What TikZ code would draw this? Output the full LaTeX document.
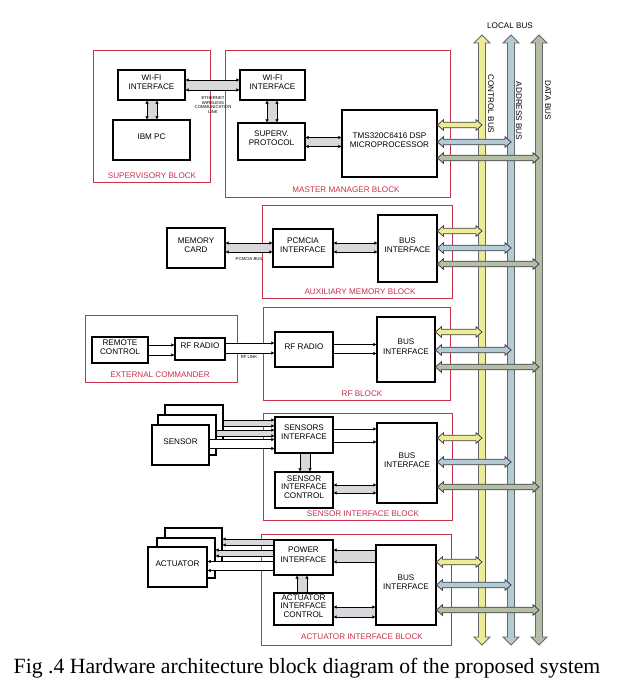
\documentclass[tikz,border=0pt]{standalone}
\usepackage{fontspec}
\setmainfont{Liberation Serif}
\newfontfamily\arialf{Liberation Sans}
\usetikzlibrary{fit,calc,arrows.meta}
\definecolor{grpred}{RGB}{200,50,75}
\definecolor{ctlfill}{RGB}{238,236,150}
\definecolor{adrfill}{RGB}{180,202,212}
\definecolor{datfill}{RGB}{180,190,166}
\definecolor{pairfill}{RGB}{215,215,220}
\newcommand\fs{\arialf\fontsize{6.1}{6.8}\selectfont}
\newcommand\fst{\arialf\fontsize{6.1}{6.3}\selectfont}
\newcommand\tinyf{\arialf\fontsize{3.2}{3.6}\selectfont}
\tikzset{
  blk/.style={draw=black, line width=0.8pt, fill=white, font=\fs, align=center, inner sep=0pt},
  grp/.style={draw=grpred, line width=0.7pt, inner sep=0pt},
  grplbl/.style={text=grpred, font=\fs},
  pl/.style={line width=0.6pt, draw=black},
  >={Latex[length=2.4pt,width=2.8pt]},
  busv/.style={draw=black!60, line width=0.6pt},
  bush/.style={draw=black!75, line width=0.6pt},
}
% box from corner to corner
\newcommand\bx[6]{\node[blk,fit={(#2,#3) (#4,#5)}] (#1) {#6};}
% pair of parallel arrow lines with fill between (horizontal)
\newcommand\pairH[5]{%
  \fill[#2] let \p1=(#3),\p2=(#4) in (\x1,\y1-#5*0.75pt) rectangle (\x2,\y1+#5*0.75pt);
  \draw[pl,#1] let \p1=(#3),\p2=(#4) in (\x1,\y1+#5*0.75pt) -- (\x2,\y1+#5*0.75pt);
  \draw[pl,#1] let \p1=(#3),\p2=(#4) in (\x1,\y1-#5*0.75pt) -- (\x2,\y1-#5*0.75pt);}
\newcommand\pairV[5]{%
  \fill[#2] let \p1=(#3),\p2=(#4) in (\x1-#5*0.75pt,\y1) rectangle (\x1+#5*0.75pt,\y2);
  \draw[pl,#1] let \p1=(#3),\p2=(#4) in (\x1+#5*0.75pt,\y1) -- (\x1+#5*0.75pt,\y2);
  \draw[pl,#1] let \p1=(#3),\p2=(#4) in (\x1-#5*0.75pt,\y1) -- (\x1-#5*0.75pt,\y2);}
% horizontal double-headed bus arrow (from left to right)
\newcommand\hbus[3]{%
  \filldraw[bush,#1] let \p1=(#2),\p2=(#3) in (\x1,\y1) -- (\x1+4.5pt,\y1+4pt) -- (\x1+4.5pt,\y1+2.1pt)
   -- (\x2-4.5pt,\y1+2.1pt) -- (\x2-4.5pt,\y1+4pt) -- (\x2,\y1) -- (\x2-4.5pt,\y1-4pt)
   -- (\x2-4.5pt,\y1-2.1pt) -- (\x1+4.5pt,\y1-2.1pt) -- (\x1+4.5pt,\y1-4pt) -- cycle;}
% vertical double-headed main bus (top to bottom)
\newcommand\vbus[3]{%
  \filldraw[busv,#1] let \p1=(#2),\p2=(#3) in (\x1,\y1) -- (\x1+6pt,\y1-6pt) -- (\x1+2.6pt,\y1-6pt)
   -- (\x1+2.6pt,\y2+6pt) -- (\x1+6pt,\y2+6pt) -- (\x1,\y2) -- (\x1-6pt,\y2+6pt)
   -- (\x1-2.6pt,\y2+6pt) -- (\x1-2.6pt,\y1-6pt) -- (\x1-6pt,\y1-6pt) -- cycle;}
\begin{document}
\begin{tikzpicture}[x=0.75pt,y=-0.75pt]
\useasboundingbox (0,0) rectangle (634,697);
\fill[white] (0,0) rectangle (634,697);

% ---------- group frames ----------
\node[grp,fit={(93,50) (210,182)}] (gsup) {};
\node[grp,fit={(225,50) (450,197)}] (gmas) {};
\node[grp,fit={(262,205) (452,298)}] (gaux) {};
\node[grp,fit={(85,315) (237,382)}] (gext) {};
\node[grp,fit={(263,307) (450,400)}] (grf) {};
\node[grp,fit={(263,413) (452,520)}] (gsen) {};
\node[grp,fit={(261,534) (451,645)}] (gact) {};

\node[grplbl] (lsup) at (152,176) {SUPERVISORY BLOCK};
\node[grplbl] (lmas) at (346,190) {MASTER MANAGER BLOCK};
\node[grplbl] (laux) at (360,292) {AUXILIARY MEMORY BLOCK};
\node[grplbl] (lext) at (160,375) {EXTERNAL COMMANDER};
\node[grplbl] (lrf) at (362,394) {RF BLOCK};
\node[grplbl] (lsen) at (363,514) {SENSOR INTERFACE BLOCK};
\node[grplbl] (lact) at (362,637) {ACTUATOR INTERFACE BLOCK};

% ---------- boxes ----------
\bx{wifiA}{118}{70}{185}{100}{WI-FI\\INTERFACE}
\bx{ibm}{113}{120}{190}{160}{IBM PC}
\bx{wifiB}{240}{70}{305}{100}{WI-FI\\INTERFACE}
\bx{superv}{238}{123}{305}{160}{SUPERV.\\PROTOCOL}
\bx{tms}{342}{110}{437}{177}{TMS320C6416 DSP\\MICROPROCESSOR}

\bx{memcard}{167}{228}{225}{268}{MEMORY\\CARD}
\bx{pcmcia}{273}{229}{333}{267}{PCMCIA\\INTERFACE}
\bx{busAux}{378}{215}{437}{282}{BUS\\INTERFACE}

\bx{remote}{92}{337}{148}{363}{REMOTE\\CONTROL}
\bx{rfA}{175}{338}{225}{360}{RF RADIO}
\bx{rfB}{275}{332}{333}{367}{RF RADIO}
\bx{busRF}{377}{317}{435}{382}{BUS\\INTERFACE}

\bx{sensC}{165}{405}{223}{445}{}
\bx{sensB}{158}{415}{216}{455}{}
\bx{sensA}{152}{425}{209}{465}{SENSOR}
\bx{sensIF}{275}{417}{333}{453}{SENSORS\\INTERFACE}
\bx{sensCtl}{275}{472}{333}{508}{\fst SENSOR\\INTERFACE\\CONTROL}
\bx{busSens}{377}{423}{437}{503}{BUS\\INTERFACE}

\bx{actC}{165}{528}{222}{568}{}
\bx{actB}{157}{538}{215}{578}{}
\bx{actA}{148}{547}{207}{587}{ACTUATOR}
\bx{powerIF}{274}{540}{333}{575}{POWER\\INTERFACE}
\bx{actCtl}{274}{593}{333}{625}{\fst ACTUATOR\\INTERFACE\\CONTROL}
\bx{busAct}{376}{545}{436}{625}{BUS\\INTERFACE}

% ---------- internal connectors ----------
\pairH{<->}{pairfill}{wifiA.east |- 0,85}{wifiB.west |- 0,85}{5}
\pairV{<->}{pairfill}{wifiA.south -| 152,0}{ibm.north -| 152,0}{5}
\pairV{<->}{pairfill}{wifiB.south -| 272,0}{superv.north -| 272,0}{5}
\pairH{<->}{pairfill}{superv.east |- 0,142}{tms.west |- 0,142}{4.5}

\pairH{<->}{pairfill}{memcard.east |- 0,247.5}{pcmcia.west |- 0,247.5}{4.5}
\pairH{<->}{pairfill}{pcmcia.east |- 0,247.5}{busAux.west |- 0,247.5}{4.5}

\pairH{->}{white}{remote.east |- 0,350}{rfA.west |- 0,350}{5}
\pairH{->}{white}{rfA.east |- 0,348}{rfB.west |- 0,348}{5}
\pairH{->}{white}{rfB.east |- 0,349}{busRF.west |- 0,349}{4.5}

\pairH{->}{pairfill}{sensC.east |- 0,423}{sensIF.west |- 0,423}{3}
\pairH{->}{pairfill}{sensB.east |- 0,433}{sensIF.west |- 0,433}{3}
\pairH{->}{white}{sensA.east |- 0,444}{sensIF.west |- 0,444}{4.5}
\pairH{->}{white}{sensIF.east |- 0,435.5}{busSens.west |- 0,435.5}{6.5}
\pairV{->}{pairfill}{sensIF.south -| 305,0}{sensCtl.north -| 305,0}{5}
\pairH{<->}{pairfill}{sensCtl.east |- 0,489}{busSens.west |- 0,489}{4}

\pairH{<-}{pairfill}{powerIF.east |- 0,556}{busAct.west |- 0,556}{6}
\pairH{<-}{pairfill}{actC.east |- 0,542}{powerIF.west |- 0,542}{3}
\pairH{<-}{pairfill}{actB.east |- 0,553}{powerIF.west |- 0,553}{3}
\pairH{<-}{white}{actA.east |- 0,566}{powerIF.west |- 0,566}{4.5}
\pairV{<-}{pairfill}{powerIF.south -| 302,0}{actCtl.north -| 302,0}{5}
\pairH{<->}{pairfill}{actCtl.east |- 0,612}{busAct.west |- 0,612}{5}

% small labels
\node[font=\tinyf, align=center] (lnk) at (213,105) {ETHERNET\\WIRELESS\\COMMUNICATION\\LINK};
\node[font=\tinyf] (pbus) at (249,259) {PCMCIA BUS};
\node[font=\tinyf] (rflink) at (249,357) {RF LINK};

% ---------- local bus ----------
\coordinate (cbT) at (482,35); \coordinate (cbB) at (482,645);
\coordinate (abT) at (511,35); \coordinate (abB) at (511,645);
\coordinate (dbT) at (539,35); \coordinate (dbB) at (539,645);
\vbus{fill=ctlfill}{cbT}{cbB}
\vbus{fill=adrfill}{abT}{abB}
\vbus{fill=datfill}{dbT}{dbB}
\node[font=\fs] (llb) at (510,26) {LOCAL BUS};
\node[font=\fs, rotate=-90] (lcb) at (491,104) {CONTROL BUS};
\node[font=\fs, rotate=-90] (lab) at (519,111) {ADDRESS BUS};
\node[font=\fs, rotate=-90] (ldb) at (548,100) {DATA BUS};

% ---------- bus taps ----------
\foreach \src/\ya/\yb/\yc in {tms/125/142/158, busAux/231/248/264, busRF/332/350/367, busSens/438/462/487, busAct/562/585/610}{
  \hbus{fill=ctlfill}{\src.east |- 0,\ya}{cbT |- 0,\ya}
  \hbus{fill=adrfill}{\src.east |- 0,\yb}{abT |- 0,\yb}
  \hbus{fill=datfill}{\src.east |- 0,\yc}{dbT |- 0,\yc}
}

% ---------- caption ----------
\node[font=\fontsize{16.3}{19}\selectfont, anchor=base] (cap) at (307,673) {Fig .4 Hardware architecture block diagram of the proposed system};
\end{tikzpicture}
\end{document}
